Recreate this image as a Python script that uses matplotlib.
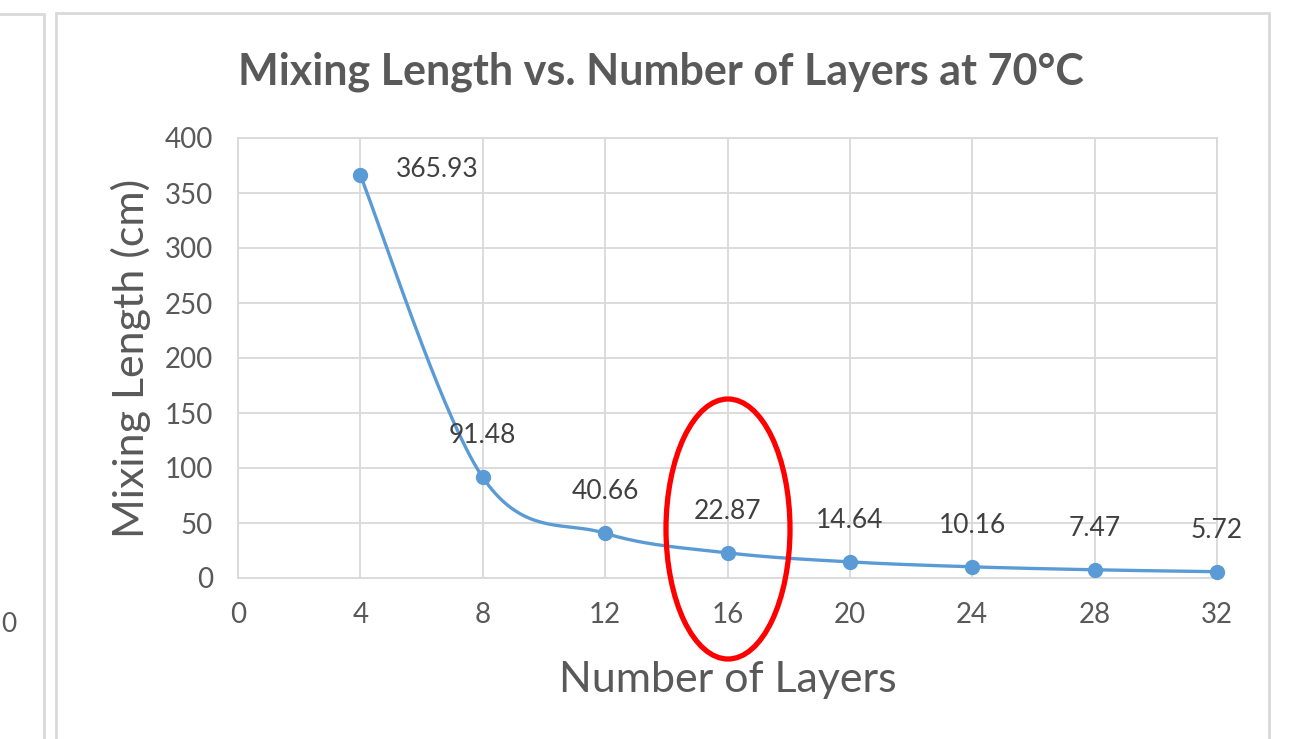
import numpy as np
import matplotlib.pyplot as plt
from matplotlib.patches import Rectangle, Ellipse

# datos
layers = [4, 8, 12, 16, 20, 24, 28, 32]
mixing_length = [365.93, 91.48, 40.66, 22.87, 14.64, 10.16, 7.47, 5.72]
labels = ["365.93", "91.48", "40.66", "22.87", "14.64", "10.16", "7.47", "5.72"]
x_ticks = [0, 4, 8, 12, 16, 20, 24, 28, 32]
y_ticks = [0, 50, 100, 150, 200, 250, 300, 350, 400]

plt.rcParams['font.family'] = ['Lato', 'DejaVu Sans']
gray = '#595959'
grid = '#d9d9d9'
blue = '#5b9bd5'

W, H = 1301, 739
fig = plt.figure(figsize=(W / 100, H / 100), dpi=100)


def fx(px):
    return px / W


def fy(py):
    return 1 - py / H


# marcos de los graficos (captura de Excel)
fig.add_artist(Rectangle((fx(-10), fy(760)), fx(54), fy(14) - fy(760), transform=fig.transFigure,
                         fill=False, ec='#d9d9d9', lw=2))
fig.add_artist(Rectangle((fx(56), fy(760)), fx(1213), fy(13) - fy(760), transform=fig.transFigure,
                         fill=False, ec='#d9d9d9', lw=2))
fig.text(fx(1), fy(625), "0", fontsize=19, color=gray, ha='left', va='center')

ax = fig.add_axes([fx(238), fy(578), fx(1217) - fx(238), fy(138) - fy(578)])


# linea suavizada (spline Catmull-Rom, como "smoothed line" de Excel)
def catmull_rom(xs, ys, n=40):
    p = np.column_stack([xs, ys]).astype(float)
    p = np.vstack([p[0], p, p[-1]])
    out = []
    for i in range(1, len(p) - 2):
        p0, p1, p2, p3 = p[i - 1], p[i], p[i + 1], p[i + 2]
        t = np.linspace(0, 1, n)[:, None]
        b1 = p1 + (p2 - p0) / 6
        b2 = p2 - (p3 - p1) / 6
        seg = ((1 - t) ** 3) * p1 + 3 * ((1 - t) ** 2) * t * b1 + 3 * (1 - t) * t ** 2 * b2 + t ** 3 * p2
        out.append(seg)
    out = np.vstack(out)
    return out[:, 0], out[:, 1]


sx, sy = catmull_rom(layers, mixing_length)
ax.plot(sx, sy, color=blue, lw=2.4, zorder=3, clip_on=False)
ax.plot(layers, mixing_length, 'o', color=blue, ms=10, zorder=4, clip_on=False)

for i, (x, y, lab) in enumerate(zip(layers, mixing_length, labels)):
    if i == 0:
        ax.annotate(lab, (x, y), xytext=(55, 4), textcoords='offset points',
                    ha='center', va='center', fontsize=19, color='#404040')
    else:
        ax.annotate(lab, (x, y), xytext=(0, 30), textcoords='offset points',
                    ha='center', va='center', fontsize=19, color='#404040')

ax.set_xlim(0, 32)
ax.set_ylim(0, 400)
ax.set_xticks(x_ticks)
ax.set_yticks(y_ticks)
ax.grid(True, color=grid, lw=1.3)
ax.set_axisbelow(True)
ax.tick_params(length=0, labelsize=20, colors=gray)
ax.tick_params(axis='x', pad=17)
ax.tick_params(axis='y', pad=18)
for s in ax.spines.values():
    s.set_color(grid)
    s.set_linewidth(1.3)

ax.set_xlabel("Number of Layers", fontsize=31, color=gray, labelpad=24)
ax.set_ylabel("Mixing Length (cm)", fontsize=31, color=gray, labelpad=10)
fig.text(fx(661), fy(72), "Mixing Length vs. Number of Layers at 70°C", fontsize=31,
         fontweight='bold', color=gray, ha='center', va='center')

# elipse roja marcando 16 capas
fig.add_artist(Ellipse((fx(728), fy(529)), fx(124), fy(400) - fy(660), transform=fig.transFigure,
                       fill=False, ec='#ff0000', lw=3.8, zorder=10))

fig.savefig("out.png", dpi=100)
